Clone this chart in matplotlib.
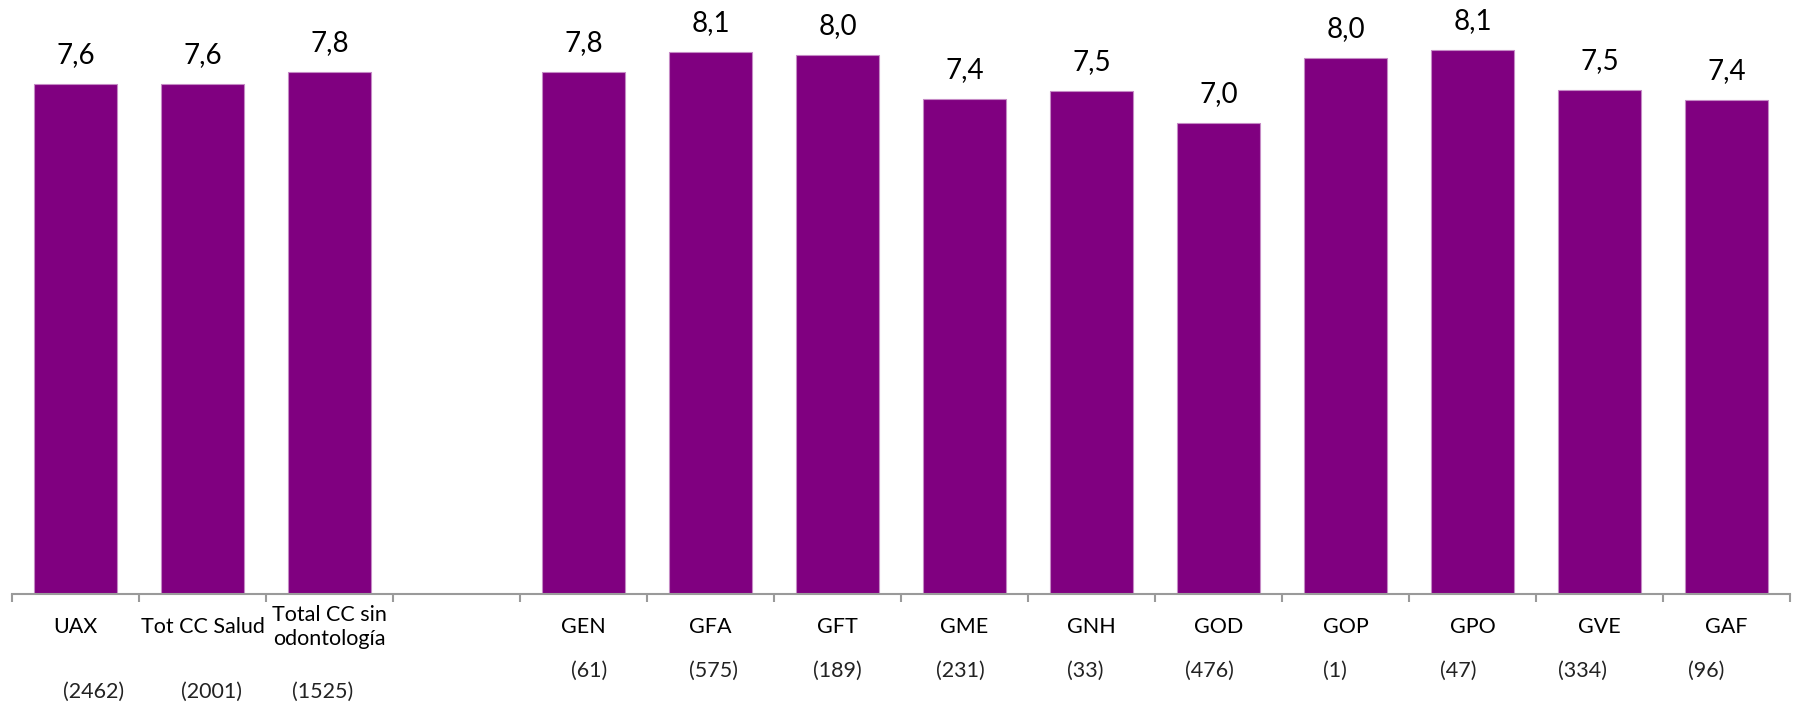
import numpy as np
import matplotlib
matplotlib.use("Agg")
import matplotlib.pyplot as plt

plt.rcParams['font.family'] = ['Lato', 'DejaVu Sans']

categories = ["UAX", "Tot CC Salud", "Total CC sin\nodontología",
              "GEN", "GFA", "GFT", "GME", "GNH", "GOD", "GOP", "GPO", "GVE", "GAF"]
values = [7.60, 7.60, 7.78, 7.78, 8.08, 8.03, 7.38, 7.49, 7.01, 7.98, 8.11, 7.51, 7.36]
counts = ["(2462)", "(2001)", "(1525)", "(61)", "(575)", "(189)", "(231)",
          "(33)", "(476)", "(1)", "(47)", "(334)", "(96)"]
# slot index of every bar (slot 3 is left empty)
slots = [0, 1, 2, 4, 5, 6, 7, 8, 9, 10, 11, 12, 13]
n_slots = 14

# small horizontal shifts (px) of the count labels, as placed in the original
count_dx = [18, 9, -7, 6, 3, 0, -4, -6, -9, -11, -14, -17, -20]

fig = plt.figure(figsize=(17.93, 7.04), dpi=100)
ax = fig.add_axes([12 / 1793, 110 / 704, 1778 / 1793, 594 / 704])

ax.bar(slots, values, width=0.66, color="#800080", edgecolor="#c58ac5", linewidth=0.8)

ax.set_xlim(-0.5, n_slots - 0.5)
ax.set_ylim(0, 8.85)

for s in ["top", "right", "left"]:
    ax.spines[s].set_visible(False)
ax.spines["bottom"].set_color("#9a9a9a")
ax.spines["bottom"].set_linewidth(1.5)
ax.set_yticks([])
ax.set_xticks(np.arange(n_slots + 1) - 0.5)
ax.set_xticklabels([])
ax.tick_params(axis="x", direction="out", length=6, width=1.5, color="#9a9a9a")

for i, (x, v) in enumerate(zip(slots, values)):
    lbl = f"{v:.1f}".replace(".", ",")
    ax.annotate(lbl, xy=(x, v), xytext=(0, 29), textcoords="offset pixels",
                ha="center", va="center", fontsize=20, color="black")
    ax.annotate(categories[i], xy=(x, 0), xytext=(0, -33), textcoords="offset pixels",
                ha="center", va="center", fontsize=15.5, color="black",
                linespacing=1.2)
    dy = -98 if i < 3 else -77
    ax.annotate(counts[i], xy=(x, 0), xytext=(count_dx[i], dy), textcoords="offset pixels",
                ha="center", va="center", fontsize=15.5, color="#222222")

plt.savefig("out.png", dpi=100)
